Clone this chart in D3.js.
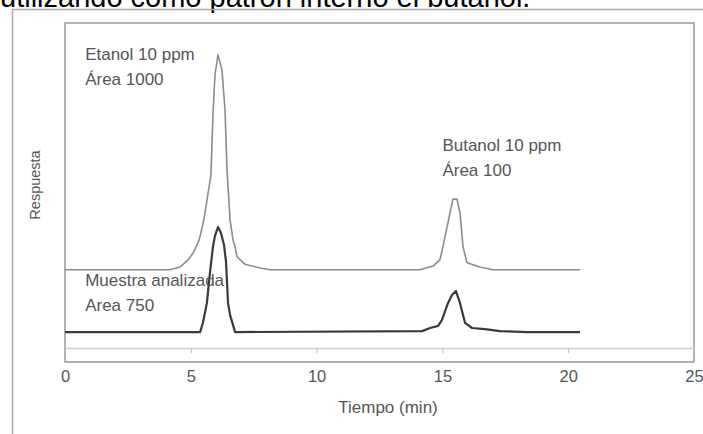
<!DOCTYPE html>
<html>
<head>
<meta charset="utf-8">
<script src="https://cdn.jsdelivr.net/npm/d3@7"></script>
<style>
  body { margin: 0; background: #fff; }
  text { font-family: "Liberation Sans", Arial, sans-serif; }
</style>
</head>
<body>
<div class="chart"></div>
<script>
// chart data
// ==========================================================================
// standard (etanol + butanol 10 ppm), upper grey trace
var stdTime = [0, 4.17, 4.57, 4.89, 5.09, 5.33, 5.52, 5.80, 5.88, 5.96, 6.08, 6.16, 6.24, 6.36, 6.44, 6.56, 6.68, 6.76, 6.84, 7.15, 7.75, 8.15,
  14.11, 14.63, 14.90, 15.02, 15.30, 15.42, 15.58, 15.70, 15.82, 15.98, 16.49, 17.0, 20.47];
var stdResp = [24.1, 24.1, 24.9, 27.1, 29.2, 33.2, 39.4, 53.2, 71.7, 84.0, 90.2, 88.0, 85.5, 73.2, 54.8, 39.4, 33.2, 31.1, 28.0, 25.8, 24.6, 24.1,
  24.1, 25.2, 27.1, 31.1, 41.5, 45.8, 45.8, 41.5, 31.1, 26.2, 24.9, 24.1, 24.1];

// muestra analizada, lower dark trace
var sampleTime = [0, 5.37, 5.48, 5.64, 5.76, 5.88, 5.96, 6.08, 6.20, 6.32, 6.40, 6.48, 6.56, 6.76,
  14.19, 14.51, 14.83, 14.98, 15.22, 15.38, 15.54, 15.70, 15.90, 16.18, 16.69, 17.29, 18.36, 20.47];
var sampleResp = [4.9, 4.9, 7.7, 13.8, 23.1, 31.1, 34.5, 37.2, 35.4, 31.7, 26.5, 13.8, 10.2, 4.9,
  5.2, 6.15, 6.8, 8.6, 13.8, 16.3, 17.5, 13.8, 7.7, 6.15, 5.8, 5.2, 4.9, 4.9];

var xTicks = [0, 5, 10, 15, 20, 25];

// annotations: [time, response, line1, line2]
var peakLabels = [
  [0.8, 88.5, "Etanol 10 ppm", "Área 1000"],
  [15.0, 60.5, "Butanol 10 ppm", "Área 100"],
  [0.8, 19.0, "Muestra analizada", "Area 750"]
];

var titleText = "utilizando como patrón interno el butanol.";

// set up chart configurations
// ==========================================================================
var svgWidth = 703;
var svgHeight = 434;

var margin = { top: 23, right: 9, bottom: 72, left: 65 };

var width = svgWidth - margin.left - margin.right;
var plotHeight = svgHeight - margin.top - margin.bottom;
var axisY = 325; // where response 0 sits inside the box

var svg = d3.select(".chart")
  .append("svg")
  .attr("width", svgWidth)
  .attr("height", svgHeight);

// page text cut by the top edge
svg.append("text")
  .attr("x", 0)
  .attr("y", 7)
  .attr("font-size", "29px")
  .attr("fill", "#000")
  .text(titleText);

// outer frame (left and top only)
svg.append("path")
  .attr("d", "M12.5,434 V9.5 H703")
  .attr("fill", "none")
  .attr("stroke", "#aaa")
  .attr("stroke-width", 1.5);

var chartGroup = svg.append("g")
  .attr("transform", `translate(${margin.left}, ${margin.top})`);

// scales
var xLinearScale = d3.scaleLinear().domain([0, 25]).range([0, width]);
var yLinearScale = d3.scaleLinear().domain([0, 100]).range([axisY, 0]);

// plot box
chartGroup.append("rect")
  .attr("x", 0)
  .attr("y", 0)
  .attr("width", width)
  .attr("height", plotHeight)
  .attr("fill", "none")
  .attr("stroke", "#999")
  .attr("stroke-width", 1.5);

// x axis
var bottomAxis = d3.axisBottom(xLinearScale)
  .tickValues(xTicks)
  .tickSizeInner(5)
  .tickSizeOuter(0)
  .tickPadding(17);

var xAxis = chartGroup.append("g")
  .attr("transform", `translate(0, ${axisY})`)
  .call(bottomAxis);

xAxis.select(".domain").attr("stroke", "#d0d0d0").attr("stroke-width", 1.5);
xAxis.selectAll(".tick line").attr("stroke", "#bbb");
xAxis.selectAll(".tick text")
  .attr("font-size", "16.5px")
  .attr("font-family", "Liberation Sans, Arial, sans-serif")
  .attr("fill", "#555");

// traces
var line = d3.line()
  .x(d => xLinearScale(d[0]))
  .y(d => yLinearScale(d[1]));

var stdData = stdTime.map((t, i) => [t, stdResp[i]]);
var sampleData = sampleTime.map((t, i) => [t, sampleResp[i]]);

chartGroup.append("path")
  .datum(stdData)
  .attr("d", line)
  .attr("fill", "none")
  .attr("stroke", "#8c8c8c")
  .attr("stroke-width", 1.6)
  .attr("stroke-linejoin", "round");

chartGroup.append("path")
  .datum(sampleData)
  .attr("d", line)
  .attr("fill", "none")
  .attr("stroke", "#3a3a3a")
  .attr("stroke-width", 2.2)
  .attr("stroke-linejoin", "round");

// peak annotations
peakLabels.forEach(function(p) {
  var t = chartGroup.append("text")
    .attr("x", xLinearScale(p[0]))
    .attr("y", yLinearScale(p[1]))
    .attr("font-size", "17px")
    .attr("fill", "#555");
  t.append("tspan").attr("x", xLinearScale(p[0])).text(p[2]);
  t.append("tspan").attr("x", xLinearScale(p[0])).attr("dy", 25).text(p[3]);
});

// axis labels
chartGroup.append("text")
  .attr("transform", "rotate(-90)")
  .attr("x", 0 - 162)
  .attr("y", 0 - margin.left + 35)
  .attr("dy", "0.35em")
  .attr("text-anchor", "middle")
  .attr("font-size", "14.5px")
  .attr("fill", "#555")
  .text("Respuesta");

chartGroup.append("text")
  .attr("x", 323)
  .attr("y", 384)
  .attr("dy", "0.35em")
  .attr("text-anchor", "middle")
  .attr("font-size", "17px")
  .attr("fill", "#555")
  .text("Tiempo (min)");
</script>
</body>
</html>
